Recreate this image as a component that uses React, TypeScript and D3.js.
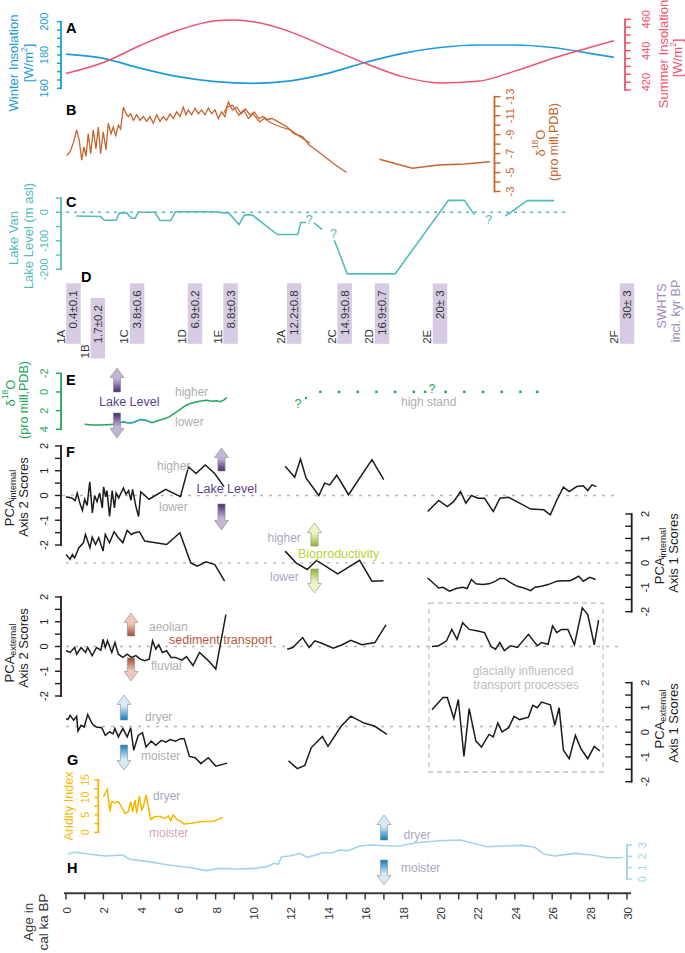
import React from "react";
import * as d3 from "d3";

const FONT = "'Liberation Sans', Arial, Helvetica, sans-serif";
const N = NaN;

// ---------- A: insolation ----------
const winterAge = [0, 2, 4, 6, 8, 10, 12, 14, 16, 18, 20, 22, 24, 26, 28, 29.3];
const winterVal = [180.5, 178, 172, 167, 164, 163, 164.5, 169, 175.5, 181, 184.5, 186, 186, 184.5, 181, 178.6];
const summerAge = [0, 2, 4, 6, 8, 9, 10, 12, 14, 16, 18, 20, 22, 24, 26, 28, 29.3];
const summerVal = [425.5, 432.5, 443.5, 453, 459, 459.5, 458.5, 452, 442, 432, 423.5, 419.5, 420.5, 427, 435, 442, 446.4];

// ---------- B: speleothem d18O ----------
const sofAge = [0.04, 0.22, 0.39, 0.57, 0.71, 0.84, 0.96, 1.07, 1.19, 1.32, 1.46, 1.6, 1.73, 1.85, 1.99, 2.14, 2.26, 2.41, 2.53, 2.66, 2.8, 2.92, 3.07, 3.21, 3.33, 3.46, 3.6, 3.78, 3.96, 4.14, 4.31, 4.49, 4.67, 4.85, 5.03, 5.2, 5.38, 5.56, 5.74, 5.92, 6.1, 6.27, 6.42, 6.54, 6.72, 6.9, 7.08, 7.25, 7.43, 7.61, 7.79, 7.97, 8.15, 8.32, 8.5, 8.68, 8.9, 9.13, 9.37, 9.6, 9.84, 10.07, 10.31, 10.54, 10.78, 11.01, 11.36, 11.83, 12.18, 12.65, 13.0, 13.36, 13.82, 14.41, 15.0];
const sofVal = [-6.8, -7.2, -8.1, -9.5, -8.4, -6.3, -7.7, -6.7, -9.1, -7.0, -9.5, -7.5, -9.8, -7.0, -9.3, -7.4, -10.2, -9.1, -9.8, -8.9, -10.0, -9.6, -11.9, -11.2, -10.9, -11.2, -10.5, -11.1, -10.5, -10.9, -10.4, -10.9, -10.2, -11.1, -10.4, -10.9, -10.5, -11.2, -10.7, -11.4, -10.9, -11.9, -11.1, -11.6, -11.1, -11.8, -11.2, -11.6, -11.1, -11.8, -11.2, -11.6, -10.7, -11.4, -10.9, -12.45, -11.6, -11.9, -11.2, -11.7, -11.05, -11.4, -10.7, -10.9, -10.6, -10.7, -10.35, -9.8, -9.1, -8.8, -7.9, -7.4, -6.7, -5.8, -5.0];
const sof2Age = [8.45, 8.6, 8.9, 9.25, 9.5, 9.75, 10.0, 10.35, 10.6, 11.0, 11.5, 12.0, 12.5, 13.05];
const sof2Val = [-11.3, -11.9, -12.1, -11.05, -11.6, -10.7, -11.2, -10.35, -10.7, -10.2, -9.8, -9.5, -8.8, -8.1];
const sof3Age = [16.76, 18.52, 19.92, 21.33, 22.67];
const sof3Val = [-6.4, -5.45, -5.8, -5.9, -6.14];

// ---------- C: Lake Van level ----------
const lakeAge = [0.55, 1.85, 2.05, 2.68, 2.86, 3.25, 3.5, 3.7, 3.85, 4.75, 5.03, 5.6, 5.85, 7.95, 8.4, 8.7, 9.25, 9.55, 9.95, 11.3, 12.4, 12.55, 12.85, N, 13.25, 13.7, N, 14.35, 15.04, 17.6, 20.45, 21.3, 21.85, N, 23.5, 24.66, 26.1];
const lakeLevel = [-13, -15, -28, -28, -2, -2, -21, -21, 0, 0, -29, -29, 2, 2, -2, -2, -43, -9, -9, -78, -78, -36, -36, N, -36, -61, N, -98, -216, -216, 42, 42, -9, N, -13, 41, 41];
const lakeQAge = [13.0, 14.3, 22.6];
const lakeQLevel = [-27, -76, -27];

// ---------- D: SWHTS ----------
const swhtsName = ["1A", "1B", "1C", "1D", "1E", "2A", "2C", "2D", "2E", "2F"];
const swhtsAge = [0.4, 1.7, 3.8, 6.9, 8.8, 12.2, 14.9, 16.9, 20, 30];
const swhtsText = ["0.4±0.1", "1.7±0.2", "3.8±0.6", "6.9±0.2", "8.8±0.3", "12.2±0.8", "14.9±0.8", "16.9±0.7", "20± 3", "30± 3"];
const swhtsRow = [0, 1, 0, 0, 0, 0, 0, 0, 0, 0];

// ---------- E: Lake Van d18O ----------
const eAge = [1.0, 1.4, 1.8, 2.2, 2.5, 2.8, 3.05, 3.3, 3.55, 3.8, 4.0, 4.3, 4.6, 4.95, 5.2, 5.5, 5.8, 6.05, 6.4, 6.7, 7.0, 7.3, 7.55, 7.8, 8.05, 8.25, 8.45, 8.6];
const eVal = [3.45, 3.55, 3.55, 3.5, 3.45, 3.35, 3.2, 3.3, 3.3, 3.1, 2.95, 3.05, 3.3, 3.05, 2.9, 2.7, 2.3, 1.95, 1.45, 1.2, 1.05, 0.95, 0.9, 1.0, 0.95, 1.05, 0.85, 0.6];
const highStandAge = [13.6, 14.6, 15.6, 16.6, 17.6, 18.6, 19.2, 20.3, 21.3, 22.3, 23.3, 24.3, 25.2];

// ---------- F: PCA internal ----------
const int2Age = [0, 0.3, 0.49, 0.6, 0.74, 0.88, 1.0, 1.13, 1.27, 1.41, 1.53, 1.66, 1.8, 1.94, 2.01, 2.12, 2.19, 2.33, 2.47, 2.59, 2.68, 2.82, 2.94, 3.07, 3.21, 3.35, 3.47, 3.56, 3.74, 3.88, 4.0, 4.44, 5.33, 6.12, 6.55, 6.95, 7.45, 7.95, 8.45, N,
  11.72, 12.23, 12.54, 12.84, 13.52, 13.83, 14.1, 14.48, 15.11, 16.36, 16.99, N,
  19.34, 19.93, 20.39, 20.74, 21.1, 21.38, 21.68, 22.03, 22.38, 22.85, 23.2, 23.67, 24.26, 24.85, 25.55, 25.9, 26.25, 26.6, 26.91, 27.31, 27.66, 27.9, 28.13, 28.36];
const int2Val = [-0.05, -0.1, -0.2, 0.1, -0.3, -0.6, -0.15, -0.4, 0.55, -0.7, 0.0, -0.25, 0.1, -0.5, 0.35, -0.05, 0.2, -0.85, 0.2, -0.5, 0.1, -0.1, 0.1, 0.3, 0.05, 0.2, -0.2, 0.25, -0.45, -0.85, 0.15, -0.15, 0.25, -0.05, 1.16, 0.89, 1.23, 0.89, 0.36, N,
  1.18, 0.74, 1.47, 0.7, 0.0, 0.5, 0.43, 0.82, 0.03, 1.45, 0.64, N,
  -0.65, -0.2, -0.45, -0.24, 0.16, -0.31, 0.0, -0.11, -0.11, -0.65, -0.11, -0.07, -0.31, -0.55, -0.58, -0.78, -0.18, 0.34, 0.16, 0.36, 0.39, 0.2, 0.43, 0.36];
const int1Age = [0, 0.22, 0.34, 0.46, 0.69, 0.93, 1.04, 1.28, 1.4, 1.58, 1.75, 1.98, 2.1, 2.33, 2.57, 2.8, 3.04, 3.27, 3.5, 3.62, 3.93, 4.21, 4.45, 5.38, 6.09, 6.67, 7.02, 7.49, 7.96, 8.48, N,
  11.72, 12.3, 12.9, 13.4, 14.53, 15.7, 16.36, 16.98, N,
  19.34, 19.93, 20.16, 20.51, 20.86, 21.21, 21.45, 21.68, 21.92, 22.27, 22.62, 22.97, 23.2, 23.44, 23.79, 24.14, 24.49, 24.85, 25.08, 25.43, 25.78, 26.25, 26.6, 26.96, 27.42, 27.66, 28.01, 28.32];
const int1Val = [0.34, 0.14, 0.34, 0.2, 0.62, 0.82, 1.16, 0.62, 1.05, 0.75, 1.03, 0.48, 1.16, 0.82, 1.27, 1.03, 0.82, 1.33, 1.16, 1.22, 1.27, 0.89, 0.86, 0.75, 1.23, 0.0, -0.14, 0.04, -0.07, -0.75, N,
  0.48, 0.0, -0.27, 0.1, -0.45, 0.1, -0.75, -0.73, N,
  -0.62, -1.03, -1.0, -1.16, -1.05, -1.0, -1.05, -0.68, -0.86, -0.89, -0.86, -0.75, -0.64, -0.64, -0.82, -0.96, -1.03, -1.14, -1.0, -0.96, -0.89, -0.75, -0.73, -0.73, -0.55, -0.75, -0.59, -0.68];

// ---------- F: PCA external ----------
const ext2Age = [0, 0.22, 0.46, 0.57, 0.81, 1.04, 1.16, 1.4, 1.63, 1.86, 1.98, 2.1, 2.22, 2.45, 2.62, 2.8, 3.04, 3.27, 3.5, 3.74, 3.97, 4.21, 4.45, 4.63, 4.8, 4.96, 5.15, 5.38, 5.62, 5.85, 6.2, 6.44, 6.79, 7.14, 7.61, 8.01, 8.55, N,
  11.83, 12.13, 12.65, 13.0, 13.31, 13.71, 14.29, 14.77, 15.23, 15.82, 16.52, 17.11, N,
  19.57, 19.93, 20.35, 20.63, 20.91, 21.21, 21.56, 22.03, 22.38, 22.74, 22.97, 23.2, 23.44, 23.79, 24.14, 24.73, 25.2, 25.43, 25.78, 26.02, 26.25, 26.49, 26.84, 27.19, 27.61, 27.9, 28.25, 28.48];
const ext2Val = [-0.17, -0.24, -0.04, -0.31, -0.04, -0.24, -0.04, -0.37, -0.04, -0.15, 0.29, -0.04, 0.23, -0.24, 0.16, -0.31, -0.44, -0.31, -0.44, -0.37, -0.51, -0.57, -0.51, 0.23, -0.11, 0.07, -0.24, -0.17, -0.44, -0.44, -0.55, -0.41, -0.77, -0.24, -0.57, -0.91, 1.29, N,
  -0.11, -0.04, 0.36, -0.04, 0.23, 0.12, -0.07, 0.07, 0.25, 0.07, 0.16, 0.87, N,
  0.0, 0.03, 0.23, 0.69, 0.29, 0.96, 0.69, 0.63, 0.56, -0.01, -0.11, 0.16, -0.17, 0.03, -0.04, 0.49, 0.03, 0.16, 0.09, 0.83, 0.56, 0.69, 0.69, 0.07, 1.56, 1.29, 0.07, 1.07];
const ext1Age = [0, 0.1, 0.22, 0.41, 0.57, 0.64, 0.81, 0.97, 1.16, 1.4, 1.63, 1.91, 2.1, 2.33, 2.52, 2.61, 2.8, 3.04, 3.27, 3.46, 3.62, 3.86, 4.09, 4.28, 4.56, 4.8, 5.1, 5.34, 5.57, 5.85, 6.13, 6.32, 6.6, 6.91, 7.21, 7.61, 8.01, 8.62, N,
  11.9, 12.37, 12.77, 13.12, 13.71, 14.01, 14.71, 15.23, 15.94, 16.52, 17.16, N,
  19.57, 20.16, 20.39, 20.74, 20.98, 21.28, 21.56, 21.92, 22.22, 22.62, 22.85, 23.09, 23.32, 23.67, 23.96, 24.26, 24.73, 24.96, 25.2, 25.43, 25.9, 26.14, 26.37, 26.6, 26.91, 27.24, 27.54, 27.9, 28.25, 28.55];
const ext1Val = [0.55, 0.51, 0.68, 0.48, 0.64, 0.05, 0.28, 0.21, 0.71, 0.34, 0.21, 0.18, -0.13, 0.01, -0.06, 0.15, -0.19, 0.15, -0.19, 0.18, -0.73, -0.13, -0.02, -0.6, -0.36, -0.53, -0.33, -0.4, -0.3, -0.36, -0.26, -0.26, -0.98, -1.03, -1.27, -1.03, -1.37, -1.25, N,
  -1.16, -1.47, -1.34, -0.62, -0.17, -0.57, 0.24, 0.65, 0.37, 0.24, -0.09, N,
  0.91, 1.4, 1.4, 0.55, 1.32, -0.98, 0.95, -0.36, -0.6, -0.09, -0.19, 0.37, 0.01, 0.18, 0.64, 0.51, 0.61, 1.09, 0.99, 1.22, 1.11, 0.28, 0.99, -0.73, -1.07, -0.13, -0.67, -1.07, -0.57, -0.76];

// ---------- G: aridity ----------
const aridAge = [2.0, 2.21, 2.35, 2.44, 2.62, 2.8, 2.92, 3.16, 3.33, 3.46, 3.56, 3.69, 3.78, 3.92, 4.05, 4.14, 4.28, 4.4, 4.53, 4.76, 5.03, 5.29, 5.47, 5.6, 5.74, 5.92, 6.1, 6.31, 6.72, 7.16, 7.52, 7.88, 8.15, 8.38];
const aridVal = [10.2, 12.3, 5.9, 8.8, 8.5, 8.8, 7.8, 5.4, 5.9, 8.8, 5.9, 9.3, 5.4, 10.4, 6.4, 7.4, 10.7, 7.4, 3.7, 4.5, 4.5, 4.0, 4.7, 3.3, 5.0, 3.7, 3.3, 2.4, 2.6, 3.0, 3.1, 3.2, 3.7, 4.3];

// ---------- H ----------
const hAge = [0.1, 0.46, 1.16, 2.1, 3.04, 3.39, 4.44, 5.15, 5.85, 6.55, 7.49, 8.2, 9.13, 10.07, 10.73, 11.13, 11.36, 11.53, 11.95, 12.53, 12.89, 13.36, 13.71, 14.29, 14.57, 15.11, 15.7, 16.4, 17.11, 17.81, 18.75, 19.92, 21.1, 21.8, 22.5, 23.44, 24.38, 25.08, 25.55, 26.14, 27.19, 28.13, 28.95, 29.77];
const hVal = [2.21, 2.38, 2.21, 2.03, 2.12, 1.74, 1.53, 1.32, 1.15, 1.03, 0.74, 0.94, 0.88, 0.94, 1.09, 1.38, 1.32, 1.97, 2.03, 2.26, 1.91, 2.12, 2.32, 2.32, 2.56, 2.5, 2.91, 3.0, 2.94, 2.91, 3.2, 3.38, 3.44, 3.15, 2.85, 2.91, 2.97, 2.8, 2.2, 2.03, 2.26, 2.12, 1.88, 1.88];

const xTicks = d3.range(0, 31, 1);
const xLabels = d3.range(0, 31, 2);

// ---------- scales ----------
const x = d3.scaleLinear().domain([0, 30]).range([66, 627]);
const yWinter = d3.scaleLinear().domain([160, 200]).range([88.3, 21.7]);
const ySummer = d3.scaleLinear().domain([415, 460]).range([90, 19.3]);
const yB = d3.scaleLinear().domain([-3, -13]).range([191.5, 96.7]);
const yC = d3.scaleLinear().domain([0, -200]).range([212.3, 269.3]);
const yE = d3.scaleLinear().domain([-2, 4]).range([373.3, 429.3]);
const yInt2 = d3.scaleLinear().domain([-2, 2]).range([545, 446]);
const yInt1 = d3.scaleLinear().domain([-2, 2]).range([611.7, 514]);
const yExt2 = d3.scaleLinear().domain([-2, 2]).range([696, 597]);
const yExt1 = d3.scaleLinear().domain([-2, 2]).range([781.7, 682.7]);
const yArid = d3.scaleLinear().domain([0, 15]).range([832.3, 780]);
const yH = d3.scaleLinear().domain([0, 3]).range([879, 845]);

type S = d3.ScaleLinear<number, number>;

function linePath(ages: number[], vals: number[], y: S, curve: d3.CurveFactory = d3.curveLinear) {
  const pts = ages.map((a, i) => [a, vals[i]] as [number, number]);
  return d3.line<[number, number]>()
    .defined(d => !isNaN(d[0]) && !isNaN(d[1]))
    .x(d => x(d[0])).y(d => y(d[1])).curve(curve)(pts) || "";
}

const C = {
  winter: "#1d9bd8", summer: "#ef5270", brown: "#c5642f", teal: "#55bcbc", green: "#1fa65a",
  black: "#1c1c1c", yellow: "#f5b700", lblue: "#9fd4ea", gray: "#aeaeae", purple: "#5b3f8c",
  box: "#d6cbe3", swhts: "#a08cba", bio: "#b7d334", sed: "#b5583c", axis: "#3a3a3a"
};

function RText(props: { x: number; y: number; children: React.ReactNode; fill: string; fs?: number; anchor?: string; weight?: string }) {
  return (
    <text transform={`translate(${props.x},${props.y}) rotate(-90)`} textAnchor={props.anchor || "middle"}
      dominantBaseline="central" fill={props.fill} fontSize={props.fs || 12.5} fontWeight={props.weight}>
      {props.children}
    </text>
  );
}

function HText(props: { x: number; y: number; children: React.ReactNode; fill: string; fs?: number; anchor?: string; weight?: string }) {
  return (
    <text x={props.x} y={props.y} textAnchor={props.anchor || "start"} dominantBaseline="central"
      fill={props.fill} fontSize={props.fs || 12} fontWeight={props.weight}>
      {props.children}
    </text>
  );
}

type AxisProps = { scale: S; x0: number; ticks: number[]; labels: number[]; side: "left" | "right" | "rightIn"; len: number; lx: number; color: string; fs?: number; sw?: number };
function VAxis(p: AxisProps) {
  const dir = p.side === "right" ? 1 : -1;
  const ys = p.ticks.map(t => p.scale(t));
  return (
    <g>
      <line x1={p.x0} x2={p.x0} y1={Math.min(...ys)} y2={Math.max(...ys)} stroke={p.color} strokeWidth={p.sw || 1.8} strokeLinecap="square" />
      {p.ticks.map(t => (
        <line key={t} x1={p.x0} x2={p.x0 + dir * p.len} y1={p.scale(t)} y2={p.scale(t)} stroke={p.color} strokeWidth={1.4} />
      ))}
      {p.labels.map(t => (
        <text key={"l" + t} transform={`translate(${p.lx},${p.scale(t)}) rotate(-90)`} textAnchor="middle"
          dominantBaseline="central" fill={p.color} fontSize={p.fs || 11}>{String(t)}</text>
      ))}
    </g>
  );
}

type ArrowDef = { id: string; cx: number; y1: number; y2: number; dir: "up" | "down"; light: string; dark: string };
function Arrow(a: ArrowDef) {
  const hw = 7, sw = 3.6, hh = 9.5;
  let pts: number[][];
  if (a.dir === "up") {
    pts = [[a.cx, a.y1], [a.cx + hw, a.y1 + hh], [a.cx + sw, a.y1 + hh], [a.cx + sw, a.y2], [a.cx - sw, a.y2], [a.cx - sw, a.y1 + hh], [a.cx - hw, a.y1 + hh]];
  } else {
    pts = [[a.cx, a.y2], [a.cx + hw, a.y2 - hh], [a.cx + sw, a.y2 - hh], [a.cx + sw, a.y1], [a.cx - sw, a.y1], [a.cx - sw, a.y2 - hh], [a.cx - hw, a.y2 - hh]];
  }
  const tipY = a.dir === "up" ? a.y1 : a.y2;
  const tailY = a.dir === "up" ? a.y2 : a.y1;
  return (
    <g>
      <defs>
        <linearGradient id={a.id} gradientUnits="userSpaceOnUse" x1={0} y1={tipY} x2={0} y2={tailY}>
          <stop offset="0" stopColor={a.light} />
          <stop offset="0.45" stopColor={a.light} />
          <stop offset="1" stopColor={a.dark} />
        </linearGradient>
      </defs>
      <polygon points={pts.map(p => p.join(",")).join(" ")} fill={`url(#${a.id})`} stroke="#8a8a8a" strokeWidth={0.6} />
    </g>
  );
}

export default function App() {
  const arrows: ArrowDef[] = [
    { id: "aE1", cx: 117, y1: 368, y2: 392, dir: "up", light: "#c3b5d4", dark: "#462a74" },
    { id: "aE2", cx: 117, y1: 413, y2: 438, dir: "down", light: "#c3b5d4", dark: "#462a74" },
    { id: "aF1", cx: 221.5, y1: 448, y2: 471, dir: "up", light: "#c3b5d4", dark: "#462a74" },
    { id: "aF2", cx: 221.5, y1: 504, y2: 530, dir: "down", light: "#c3b5d4", dark: "#462a74" },
    { id: "aB1", cx: 314.5, y1: 523, y2: 546, dir: "up", light: "#eef5c4", dark: "#8db52c" },
    { id: "aB2", cx: 314.5, y1: 569, y2: 593, dir: "down", light: "#eef5c4", dark: "#8db52c" },
    { id: "aS1", cx: 131, y1: 613, y2: 636, dir: "up", light: "#f0c9ba", dark: "#9c4a32" },
    { id: "aS2", cx: 131, y1: 658, y2: 681, dir: "down", light: "#f0c9ba", dark: "#9c4a32" },
    { id: "aG1", cx: 124, y1: 695, y2: 720, dir: "up", light: "#d5e9f6", dark: "#0b7dc0" },
    { id: "aG2", cx: 124, y1: 745, y2: 770, dir: "down", light: "#d5e9f6", dark: "#0b7dc0" },
    { id: "aH1", cx: 384, y1: 815, y2: 840, dir: "up", light: "#d5e9f6", dark: "#0b7dc0" },
    { id: "aH2", cx: 384, y1: 860, y2: 885, dir: "down", light: "#d5e9f6", dark: "#0b7dc0" },
  ];

  const half = d3.range(-2, 2.01, 0.5);
  const ints = [-2, -1, 0, 1, 2];
  const eTealAge = eAge.filter(a => a >= 3.0 && a <= 4.7);
  const eTealVal = eAge.map((a, i) => [a, eVal[i]]).filter(d => d[0] >= 3.0 && d[0] <= 4.7).map(d => d[1]);
  const barW = 14.5;

  return (
    <svg width={685} height={953} style={{ position: "absolute", left: 0, top: 0, background: "#fff" }} fontFamily={FONT}>
      <rect x={0} y={0} width={685} height={953} fill="#fff" />

      {/* ===== A ===== */}
      <VAxis scale={yWinter} x0={61} ticks={d3.range(160, 201, 5)} labels={[160, 180, 200]} side="left" len={4} lx={44} color={C.winter} />
      <VAxis scale={ySummer} x0={625} ticks={d3.range(415, 461, 5)} labels={[420, 440, 460]} side="right" len={6} lx={646} color={C.summer} />
      <path d={linePath(winterAge, winterVal, yWinter, d3.curveMonotoneX)} fill="none" stroke={C.winter} strokeWidth={1.7} />
      <path d={linePath(summerAge, summerVal, ySummer, d3.curveMonotoneX)} fill="none" stroke={C.summer} strokeWidth={1.5} />
      <RText x={13} y={63} fill={C.winter} fs={13}>Winter Insolation</RText>
      <RText x={28} y={63} fill={C.winter} fs={13}>[W/m<tspan dy={-4} fontSize={8.5}>2</tspan><tspan dy={4}>]</tspan></RText>
      <RText x={663} y={54} fill={C.summer} fs={13}>Summer Insolation</RText>
      <RText x={677} y={58} fill={C.summer} fs={13}>[W/m<tspan dy={-4} fontSize={8.5}>2</tspan><tspan dy={4}>]</tspan></RText>
      <HText x={66} y={28} fill="#000" fs={14.5} weight="bold">A</HText>

      {/* ===== B ===== */}
      <VAxis scale={yB} x0={494.5} ticks={d3.range(-13, -2.9, 1)} labels={[-3, -5, -7, -9, -11, -13]} side="right" len={6} lx={510} color={C.brown} />
      <path d={linePath(sof2Age, sof2Val, yB)} fill="none" stroke={C.brown} strokeWidth={1.2} />
      <path d={linePath(sofAge, sofVal, yB)} fill="none" stroke={C.brown} strokeWidth={1.3} />
      <path d={linePath(sof3Age, sof3Val, yB)} fill="none" stroke={C.brown} strokeWidth={1.4} />
      <RText x={540} y={143} fill={C.brown} fs={13}>δ<tspan dy={-5} fontSize={8.5}>18</tspan><tspan dy={5}>O</tspan></RText>
      <RText x={554} y={142} fill={C.brown} fs={12.5}>(pro mill,PDB)</RText>
      <HText x={66} y={110} fill="#000" fs={14.5} weight="bold">B</HText>

      {/* ===== C ===== */}
      <VAxis scale={yC} x0={61} ticks={[-200, -150, -100, -50, 0, 50]} labels={[-200, -100, 0]} side="left" len={5} lx={44} color={C.teal} />
      <line x1={66} x2={565} y1={yC(0)} y2={yC(0)} stroke={C.teal} strokeWidth={1.6} strokeDasharray="3,5" />
      <path d={linePath(lakeAge, lakeLevel, yC)} fill="none" stroke={C.teal} strokeWidth={1.6} />
      {lakeQAge.map((a, i) => (
        <HText key={"q" + i} x={x(a)} y={yC(lakeQLevel[i])} fill={C.teal} fs={13} anchor="middle">?</HText>
      ))}
      <RText x={13} y={238} fill={C.teal} fs={13}>Lake Van</RText>
      <RText x={28} y={236} fill={C.teal} fs={13}>Lake Level (m asl)</RText>
      <HText x={66} y={201.5} fill="#000" fs={14.5} weight="bold">C</HText>

      {/* ===== D ===== */}
      <HText x={81} y={276.5} fill="#000" fs={14.5} weight="bold">D</HText>
      {swhtsAge.map((a, i) => {
        const top = swhtsRow[i] ? 298 : 283.3;
        const cx = x(a);
        return (
          <g key={"sw" + i}>
            <rect x={cx - barW / 2} y={top} width={barW} height={60.5} fill={C.box} />
            <RText x={cx} y={top + 7} fill="#333" fs={11.5} anchor="end">{swhtsText[i]}</RText>
            <RText x={cx - barW / 2 - 5.5} y={top + 60.5} fill="#333" fs={11.5} anchor="start">{swhtsName[i]}</RText>
          </g>
        );
      })}
      <RText x={662} y={306} fill={C.swhts} fs={12.5}>SWHTS</RText>
      <RText x={676} y={311} fill={C.swhts} fs={12.5}>incl. kyr BP</RText>

      {/* ===== E ===== */}
      <VAxis scale={yE} x0={61} ticks={[-2, 0, 2, 4]} labels={[-2, 0, 2, 4]} side="left" len={5} lx={44} color={C.green} />
      <path d={linePath(eAge, eVal, yE)} fill="none" stroke={C.green} strokeWidth={1.5} />
      <path d={linePath(eTealAge, eTealVal, yE)} fill="none" stroke="#2aa6b6" strokeWidth={1.3} />
      {highStandAge.map((a, i) => (
        <circle key={"hs" + i} cx={x(a)} cy={yE(0)} r={1.4} fill={C.green} />
      ))}
      <circle cx={306} cy={398} r={1.2} fill={C.green} />
      <HText x={298} y={404} fill={C.green} fs={12.5} anchor="middle">?</HText>
      <HText x={x(19.57)} y={389} fill={C.green} fs={12.5} anchor="middle">?</HText>
      <RText x={10} y={393} fill={C.green} fs={13}>δ<tspan dy={-5} fontSize={8.5}>18</tspan><tspan dy={5}>O</tspan></RText>
      <RText x={23.5} y={400} fill={C.green} fs={12.5}>(pro mill,PDB)</RText>
      <HText x={66} y={379.5} fill="#000" fs={14.5} weight="bold">E</HText>
      <HText x={175} y={392} fill={C.gray}>higher</HText>
      <HText x={175} y={422} fill={C.gray}>lower</HText>
      <HText x={99} y={402} fill={C.purple} fs={12.5}>Lake Level</HText>
      <HText x={401} y={402} fill={C.gray}>high stand</HText>

      {/* ===== F internal ===== */}
      <line x1={62} x2={618} y1={yInt2(0)} y2={yInt2(0)} stroke="#b4b4b4" strokeWidth={1.3} strokeDasharray="3,6" />
      <line x1={66} x2={621} y1={yInt1(0)} y2={yInt1(0)} stroke="#b4b4b4" strokeWidth={1.3} strokeDasharray="3,6" />
      <VAxis scale={yInt2} x0={61} ticks={half} labels={ints} side="left" len={6} lx={44} color={C.black} />
      <VAxis scale={yInt1} x0={631.7} ticks={half} labels={ints} side="rightIn" len={6.5} lx={645} color={C.black} />
      <path d={linePath(int2Age, int2Val, yInt2)} fill="none" stroke={C.black} strokeWidth={1.5} />
      <path d={linePath(int1Age, int1Val, yInt1)} fill="none" stroke={C.black} strokeWidth={1.5} />
      <RText x={9} y={498} fill={C.black} fs={13}>PCA<tspan dy={4} fontSize={9}>internal</tspan></RText>
      <RText x={23.5} y={497} fill={C.black} fs={13}>Axis 2 Scores</RText>
      <RText x={659} y={556} fill={C.black} fs={13}>PCA<tspan dy={4} fontSize={9}>internal</tspan></RText>
      <RText x={673} y={553} fill={C.black} fs={13}>Axis 1 Scores</RText>
      <HText x={66} y={452} fill="#000" fs={14.5} weight="bold">F</HText>
      <HText x={157} y={466} fill={C.gray}>higher</HText>
      <HText x={196.5} y={489} fill={C.purple} fs={12.5}>Lake Level</HText>
      <HText x={159} y={507} fill={C.gray}>lower</HText>
      <HText x={267.5} y={538} fill="#aaa8c6">higher</HText>
      <HText x={298} y={554} fill={C.bio} fs={12.5}>Bioproductivity</HText>
      <HText x={270} y={577} fill="#aaa8c6">lower</HText>

      {/* ===== F external ===== */}
      <line x1={66} x2={618} y1={yExt2(0)} y2={yExt2(0)} stroke="#b4b4b4" strokeWidth={1.3} strokeDasharray="3,6" />
      <line x1={66} x2={617} y1={yExt1(0.23)} y2={yExt1(0.23)} stroke="#b4b4b4" strokeWidth={1.3} strokeDasharray="3,6" />
      <rect x={429} y={603} width={174} height={169} fill="none" stroke="#c4c4c4" strokeWidth={1.3} strokeDasharray="5,4" />
      <VAxis scale={yExt2} x0={61} ticks={half} labels={ints} side="left" len={6} lx={44} color={C.black} />
      <VAxis scale={yExt1} x0={631.7} ticks={half} labels={ints} side="rightIn" len={6.5} lx={645} color={C.black} />
      <path d={linePath(ext2Age, ext2Val, yExt2)} fill="none" stroke={C.black} strokeWidth={1.5} />
      <path d={linePath(ext1Age, ext1Val, yExt1)} fill="none" stroke={C.black} strokeWidth={1.5} />
      <RText x={9} y={653} fill={C.black} fs={13}>PCA<tspan dy={4} fontSize={9}>external</tspan></RText>
      <RText x={23.5} y={648} fill={C.black} fs={13}>Axis 2 Scores</RText>
      <RText x={659} y={719} fill={C.black} fs={13}>PCA<tspan dy={4} fontSize={9}>external</tspan></RText>
      <RText x={673} y={723} fill={C.black} fs={13}>Axis 1 Scores</RText>
      <HText x={149} y={627} fill={C.gray}>aeolian</HText>
      <HText x={169} y={640} fill={C.sed} fs={12.5}>sediment transport</HText>
      <HText x={151} y={666} fill={C.gray}>fluvial</HText>
      <HText x={523} y={671} fill="#bdbdbd" anchor="middle">glacially influenced</HText>
      <HText x={526} y={684.5} fill="#bdbdbd" anchor="middle">transport processes</HText>
      <HText x={145} y={717} fill={C.gray}>dryer</HText>
      <HText x={141} y={756} fill={C.gray}>moister</HText>

      {/* ===== G ===== */}
      <HText x={67} y={760} fill="#000" fs={14.5} weight="bold">G</HText>
      <VAxis scale={yArid} x0={98.3} ticks={d3.range(0, 15.1, 2.5)} labels={[0, 5, 10, 15]} side="left" len={4} lx={85} color={C.yellow} fs={10.5} />
      <path d={linePath(aridAge, aridVal, yArid)} fill="none" stroke={C.yellow} strokeWidth={1.5} />
      <RText x={68.5} y={806} fill={C.yellow} fs={12.5}>Aridity Index</RText>
      <HText x={153} y={796} fill="#aaa8c0">dryer</HText>
      <HText x={149} y={833} fill="#d4a6b0">moister</HText>

      {/* ===== H ===== */}
      <VAxis scale={yH} x0={627} ticks={[0, 1, 2, 3]} labels={[0, 1, 2, 3]} side="right" len={5} lx={642} color={C.lblue} fs={10.5} />
      <path d={linePath(hAge, hVal, yH)} fill="none" stroke={C.lblue} strokeWidth={1.6} />
      <HText x={67} y={868} fill="#000" fs={14.5} weight="bold">H</HText>
      <HText x={403.5} y={835} fill="#aaa8c0">dryer</HText>
      <HText x={401} y={868} fill="#aaa8c0">moister</HText>

      {/* arrows */}
      {arrows.map(a => <Arrow key={a.id} {...a} />)}

      {/* ===== X axis ===== */}
      <line x1={64} x2={631} y1={893.3} y2={893.3} stroke={C.axis} strokeWidth={2} />
      {xTicks.map(t => (
        <line key={"xt" + t} x1={x(t)} x2={x(t)} y1={893.3} y2={899.5} stroke={C.axis} strokeWidth={1.5} />
      ))}
      {xLabels.map(t => (
        <RText key={"xl" + t} x={x(t) + 1} y={907} fill="#333" fs={11.5} anchor="end">{String(t)}</RText>
      ))}
      <RText x={28} y={922} fill="#333" fs={13.5}>Age in</RText>
      <RText x={43} y={922} fill="#333" fs={13.5}>cal ka BP</RText>
    </svg>
  );
}
